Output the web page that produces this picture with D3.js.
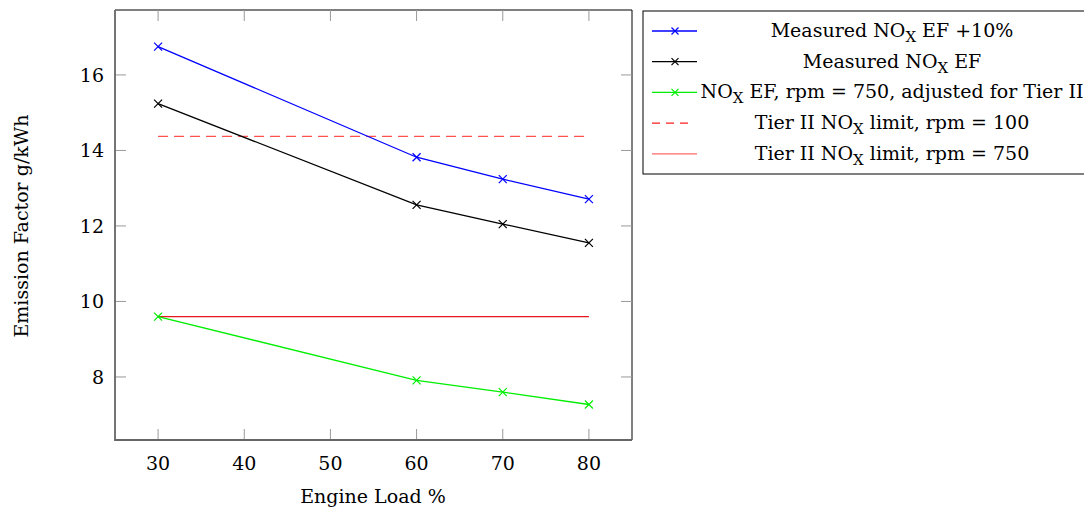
<!DOCTYPE html>
<html>
<head>
<meta charset="utf-8">
<script src="https://cdn.jsdelivr.net/npm/d3@7"></script>
<style>
  body { margin: 0; background: #fff; }
  svg text { font-family: "DejaVu Serif", serif; fill: #000; }
</style>
</head>
<body>
<div id="chart"></div>
<script>
// Engine load values and emission factors (g/kWh)
const loads = [30, 60, 70, 80];
const measuredPlus10 = [16.75, 13.82, 13.24, 12.71];
const measured = [15.24, 12.56, 12.05, 11.55];
const adjusted = [9.6, 7.91, 7.6, 7.27];
const limit100 = 14.37;
const limit750 = 9.6;
const xTicks = [30, 40, 50, 60, 70, 80];
const yTicks = [8, 10, 12, 14, 16];

const width = 1084;
const height = 509;
const plotL = 115, plotR = 632, plotT = 10, plotB = 440;
const fs = "19px";

const svg = d3.select("#chart").append("svg").attr("width", width).attr("height", height);

const x = d3.scaleLinear().domain([25, 85]).range([plotL, plotR]);
const y = d3.scaleLinear().domain([6.33, 17.72]).range([plotB, plotT]);

// frame
svg.append("line").attr("x1", plotL).attr("x2", plotR).attr("y1", plotT).attr("y2", plotT).attr("stroke", "#000");
svg.append("line").attr("x1", plotR).attr("x2", plotR).attr("y1", plotT).attr("y2", plotB).attr("stroke", "#000");

// ticks (inside, on all sides)
const tickLen = 11;
const tg = svg.append("g").attr("stroke", "#999").attr("stroke-width", 1);
xTicks.forEach((t) => {
  tg.append("line").attr("x1", x(t)).attr("x2", x(t)).attr("y1", plotB).attr("y2", plotB - tickLen);
  tg.append("line").attr("x1", x(t)).attr("x2", x(t)).attr("y1", plotT).attr("y2", plotT + tickLen);
});
yTicks.forEach((t) => {
  tg.append("line").attr("x1", plotL).attr("x2", plotL + tickLen).attr("y1", y(t)).attr("y2", y(t));
  tg.append("line").attr("x1", plotR).attr("x2", plotR - tickLen).attr("y1", y(t)).attr("y2", y(t));
});

svg.append("line").attr("x1", plotL).attr("x2", plotL).attr("y1", plotT).attr("y2", plotB + 1).attr("stroke", "#666").attr("stroke-width", 1.8);
svg.append("line").attr("x1", plotL).attr("x2", plotR).attr("y1", plotB).attr("y2", plotB).attr("stroke", "#666").attr("stroke-width", 1.8);

svg.selectAll(".xlab").data(xTicks).enter().append("text")
  .attr("x", (d) => x(d)).attr("y", plotB + 30).attr("text-anchor", "middle")
  .style("font-size", fs).text((d) => d);
svg.selectAll(".ylab").data(yTicks).enter().append("text")
  .attr("x", plotL - 11).attr("y", (d) => y(d) + 7).attr("text-anchor", "end")
  .style("font-size", fs).text((d) => d);

svg.append("text").attr("x", 373).attr("y", 503).attr("text-anchor", "middle")
  .style("font-size", fs).text("Engine Load %");
svg.append("text").attr("transform", "translate(28,226) rotate(-90)").attr("text-anchor", "middle")
  .style("font-size", fs).text("Emission Factor g/kWh");

// reference limits
svg.append("line").attr("x1", x(30)).attr("x2", x(80)).attr("y1", y(limit100)).attr("y2", y(limit100))
  .attr("stroke", "#ff5050").attr("stroke-width", 1.3).attr("stroke-dasharray", "10,6");
svg.append("line").attr("x1", x(30)).attr("x2", x(80)).attr("y1", y(limit750)).attr("y2", y(limit750))
  .attr("stroke", "#e8141e").attr("stroke-width", 1.3);

const line = d3.line().x((d) => x(d[0])).y((d) => y(d[1]));
const series = [
  { values: measuredPlus10, color: "#0000ff" },
  { values: measured, color: "#000000" },
  { values: adjusted, color: "#00ee00" },
];

function cross(g, cx, cy, color, s) {
  g.append("path").attr("d", `M${cx - s},${cy - s}L${cx + s},${cy + s}M${cx - s},${cy + s}L${cx + s},${cy - s}`)
    .attr("stroke", color).attr("stroke-width", 1.2).attr("fill", "none");
}

series.forEach((s) => {
  const pts = loads.map((l, i) => [l, s.values[i]]);
  svg.append("path").attr("d", line(pts)).attr("fill", "none").attr("stroke", s.color).attr("stroke-width", 1.3);
  const g = svg.append("g");
  pts.forEach((p) => cross(g, x(p[0]), y(p[1]), s.color, 4));
});

// legend
const lg = svg.append("g");
lg.append("rect").attr("x", 643).attr("y", 11).attr("width", 460).attr("height", 163)
  .attr("fill", "#fff").attr("stroke", "#000").attr("stroke-width", 1);
const entries = [
  { color: "#0000ff", mark: true, parts: ["Measured NO", "X", " EF +10%"] },
  { color: "#000000", mark: true, parts: ["Measured NO", "X", " EF"] },
  { color: "#00ee00", mark: true, parts: ["NO", "X", " EF, rpm = 750, adjusted for Tier II"] },
  { color: "#ff2020", dash: true, parts: ["Tier II NO", "X", " limit, rpm = 100"] },
  { color: "#ff6a6a", parts: ["Tier II NO", "X", " limit, rpm = 750"] },
];
entries.forEach((e, i) => {
  const yy = 31 + i * 30.7;
  const l = lg.append("line").attr("x1", 652).attr("x2", 697).attr("y1", yy).attr("y2", yy)
    .attr("stroke", e.color).attr("stroke-width", 1.3);
  if (e.dash) l.attr("stroke-dasharray", "8,6").attr("x2", 692);
  if (e.mark) cross(lg, 675, yy, e.color, 3.5);
  const t = lg.append("text").attr("x", 892).attr("y", yy + 6).attr("text-anchor", "middle").style("font-size", fs);
  t.append("tspan").text(e.parts[0]);
  t.append("tspan").attr("dy", 5).style("font-size", "15px").text(e.parts[1]);
  t.append("tspan").attr("dy", -5).text(e.parts[2]);
});
</script>
</body>
</html>
